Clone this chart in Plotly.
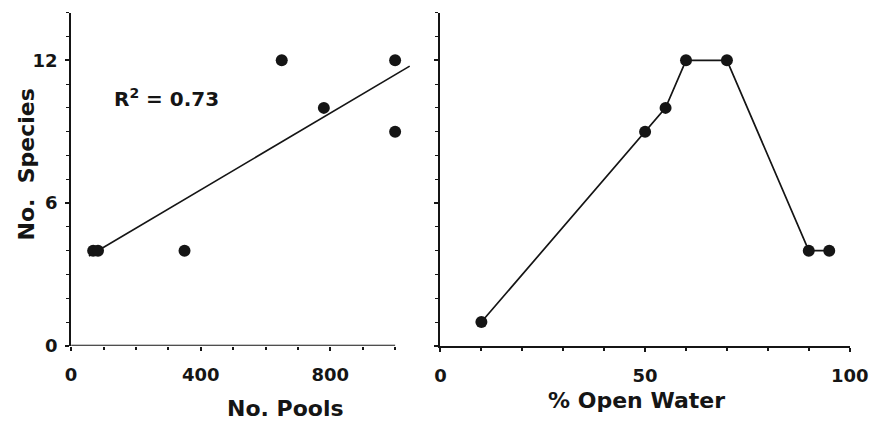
import numpy as np
import plotly.graph_objects as go

# Species richness vs. number of pools
pools = [68, 83, 350, 650, 780, 1000, 1000]
species_pools = [4, 4, 4, 12, 10, 12, 9]

# Species richness vs. percent open water
open_water = [10, 50, 55, 60, 70, 90, 95]
species_water = [1, 9, 10, 12, 12, 4, 4]

r2_label = "R<sup>2</sup> = 0.73"
fit_span = [55, 1045]

W, H = 893, 433
INK = "#151515"
FONT = "DejaVu Sans"


def px_x(p):
    return p / W


def px_y(p):
    return (H - p) / H


slope, intercept = np.polyfit(pools, species_pools, 1)
fit_x = np.array(fit_span, dtype=float)
fit_y = intercept + slope * fit_x

fig = go.Figure()

fig.add_trace(go.Scatter(
    x=fit_x, y=fit_y, mode="lines",
    line=dict(color=INK, width=1.7),
    xaxis="x", yaxis="y", showlegend=False, hoverinfo="skip",
))
fig.add_trace(go.Scatter(
    x=pools, y=species_pools, mode="markers",
    marker=dict(color=INK, size=12),
    xaxis="x", yaxis="y", showlegend=False,
))
fig.add_trace(go.Scatter(
    x=open_water, y=species_water, mode="lines+markers",
    line=dict(color=INK, width=1.7),
    marker=dict(color=INK, size=12),
    xaxis="x2", yaxis="y2", showlegend=False,
))

tick_font = dict(family=FONT, size=18, color=INK, weight="bold")
y_dom = [px_y(354), px_y(13)]

common_axis = dict(
    showgrid=False, zeroline=False, ticks="outside", ticklen=4,
    tickwidth=1.5, tickcolor=INK, linecolor=INK, linewidth=2,
    tickfont=tick_font,
)

fig.update_layout(
    width=W, height=H,
    margin=dict(l=0, r=0, t=0, b=0),
    paper_bgcolor="white", plot_bgcolor="white",
    xaxis=dict(
        common_axis, domain=[px_x(67), px_x(417)], range=[0, 1050],
        anchor="y", showline=False, tickvals=[0, 400, 800],
        ticklabelstandoff=9,
        minor=dict(dtick=100, ticks="outside", ticklen=3, tickwidth=1.5,
                   tickcolor=INK),
    ),
    yaxis=dict(
        common_axis, domain=y_dom, range=[0, 14], anchor="x",
        showline=True, tickvals=[0, 6, 12], ticklabelstandoff=4,
        minor=dict(dtick=1, ticks="outside", ticklen=3, tickwidth=1.2,
                   tickcolor=INK),
    ),
    xaxis2=dict(
        common_axis, domain=[px_x(447), px_x(868)], range=[0, 100],
        anchor="y2", showline=True, tickvals=[0, 50, 100],
        ticklabelstandoff=9,
        minor=dict(dtick=10, ticks="outside", ticklen=3, tickwidth=1.5,
                   tickcolor=INK),
    ),
    yaxis2=dict(
        common_axis, domain=y_dom, range=[0, 14], anchor="x2",
        showline=True, showticklabels=False, tickvals=[0, 6, 12],
        minor=dict(dtick=1, ticks="outside", ticklen=3, tickwidth=1.2,
                   tickcolor=INK),
    ),
)

# x axis line of the left panel stops at 1000 pools
fig.add_shape(type="line", xref="x", yref="y", x0=0, x1=1000, y0=0, y1=0,
              line=dict(color=INK, width=2))

title_font = dict(family=FONT, size=22, color=INK, weight="bold")
fig.add_annotation(text="No. Pools", xref="paper", yref="paper",
                   x=px_x(288), y=px_y(418), showarrow=False,
                   xanchor="center", yanchor="middle", font=title_font)
fig.add_annotation(text="% Open Water", xref="paper", yref="paper",
                   x=px_x(649), y=px_y(410), showarrow=False,
                   xanchor="center", yanchor="middle", font=title_font)
fig.add_annotation(text="No.  Species", xref="paper", yref="paper",
                   x=px_x(21), y=px_y(168), showarrow=False, textangle=-90,
                   xanchor="center", yanchor="middle", font=title_font)
fig.add_annotation(text=r2_label, xref="paper", yref="paper",
                   x=px_x(165), y=px_y(100), showarrow=False,
                   xanchor="center", yanchor="middle",
                   font=dict(family=FONT, size=20, color=INK,
                             weight="bold"))

# page without body margin so the figure fills the window exactly
fig.write_html(
    "out.html",
    post_script="document.body.style.margin='0';"
                "document.body.style.overflow='hidden';",
)
